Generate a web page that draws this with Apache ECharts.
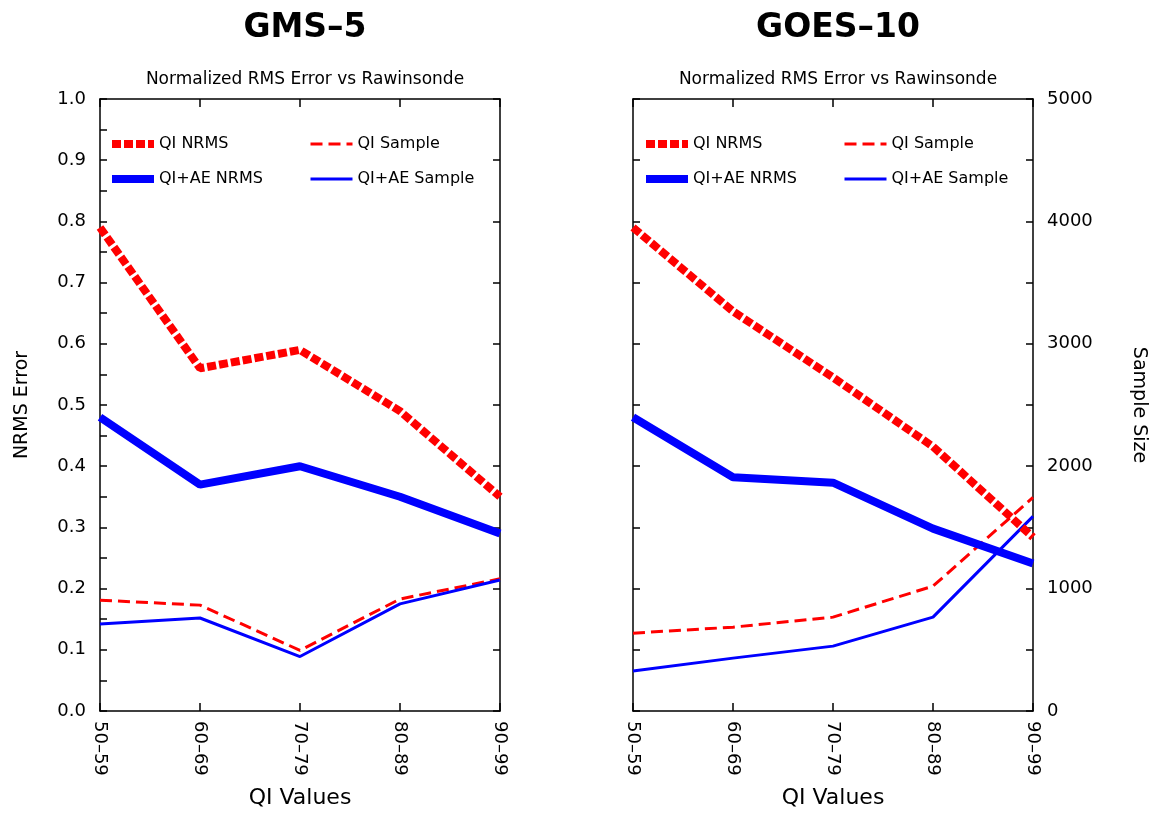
<!DOCTYPE html>
<html>
<head>
<meta charset="utf-8">
<script src="https://cdn.jsdelivr.net/npm/echarts@6/dist/echarts.min.js"></script>
<style>
  html, body { margin: 0; padding: 0; background: #fff; }
  #chart { width: 1155px; height: 814px; }
</style>
</head>
<body>
<div id="chart"></div>
<script>
const categories = ['50–59', '60–69', '70–79', '80–89', '90–99']

// GMS-5
const gmsQiNrms = [0.79, 0.56, 0.59, 0.49, 0.35]
const gmsQiAeNrms = [0.48, 0.37, 0.40, 0.35, 0.29]
const gmsQiSample = [905, 865, 495, 915, 1080]
const gmsQiAeSample = [710, 760, 445, 875, 1070]

// GOES-10
const goesQiNrms = [0.79, 0.653, 0.545, 0.432, 0.284]
const goesQiAeNrms = [0.48, 0.382, 0.373, 0.298, 0.241]
const goesQiSample = [636, 685, 767, 1020, 1745]
const goesQiAeSample = [326, 432, 530, 767, 1590]

const nrmsTicks = ['0.0', '0.1', '0.2', '0.3', '0.4', '0.5', '0.6', '0.7', '0.8', '0.9', '1.0']
const sampleTicks = ['0', '1000', '2000', '3000', '4000', '5000']

const FONT = 'DejaVu Sans, Liberation Sans, Arial, sans-serif'
const RED = '#ff0000'
const BLUE = '#0000ff'

const chart = echarts.init(document.getElementById('chart'))

const axisLine = { show: true, onZero: false, lineStyle: { color: '#000', width: 1.5 } }
const tickIn = (len) => ({ show: true, inside: true, length: len, lineStyle: { color: '#000', width: 1.5 } })

function xAxes(gridIndex) {
  return [
    {
      type: 'category', gridIndex, data: categories, boundaryGap: false, position: 'bottom',
      axisLine, axisTick: tickIn(8),
      axisLabel: { rotate: -90, color: '#000', fontFamily: FONT, fontSize: 18, margin: 10 },
      name: 'QI Values', nameLocation: 'middle', nameGap: 76,
      nameTextStyle: { color: '#000', fontFamily: FONT, fontSize: 22 },
      splitLine: { show: false },
    },
    {
      type: 'category', gridIndex, data: categories, boundaryGap: false, position: 'top',
      axisLine, axisTick: tickIn(8), axisLabel: { show: false }, splitLine: { show: false },
    },
  ]
}

function yAxes(gridIndex, leftLabels, rightLabels) {
  return [
    {
      type: 'value', gridIndex, min: 0, max: 1, interval: 0.1, position: 'left',
      axisLine, axisTick: tickIn(7),
      minorTick: { show: leftLabels, splitNumber: 2, length: 7, lineStyle: { color: '#000', width: 1.5 } },
      axisLabel: {
        show: leftLabels, color: '#000', fontFamily: FONT, fontSize: 18, margin: 14,
        formatter: (v) => nrmsTicks[Math.round(v * 10)],
      },
      name: leftLabels ? 'NRMS Error' : '', nameLocation: 'middle', nameGap: 68,
      nameTextStyle: { color: '#000', fontFamily: FONT, fontSize: 19 },
      splitLine: { show: false },
    },
    {
      type: 'value', gridIndex, min: 0, max: 5000, interval: rightLabels ? 1000 : 500, position: 'right',
      axisLine, axisTick: tickIn(7),
      minorTick: { show: rightLabels, splitNumber: 2, length: 7, lineStyle: { color: '#000', width: 1.5 } },
      axisLabel: {
        show: rightLabels, color: '#000', fontFamily: FONT, fontSize: 18, margin: 14,
        formatter: (v) => sampleTicks[Math.round(v / 1000)],
      },
      name: rightLabels ? 'Sample Size' : '', nameLocation: 'middle', nameGap: 96, nameRotate: -90,
      nameTextStyle: { color: '#000', fontFamily: FONT, fontSize: 19 },
      splitLine: { show: false },
    },
  ]
}

function seriesFor(idx, qiNrms, qiAeNrms, qiSample, qiAeSample) {
  const x = idx * 2
  const y = idx * 2
  const base = { type: 'line', symbol: 'none', xAxisIndex: x, silent: true }
  return [
    { ...base, name: 'QI Sample', yAxisIndex: y + 1, data: qiSample,
      lineStyle: { color: RED, width: 3, type: [12, 6] }, itemStyle: { color: RED } },
    { ...base, name: 'QI+AE Sample', yAxisIndex: y + 1, data: qiAeSample,
      lineStyle: { color: BLUE, width: 3 }, itemStyle: { color: BLUE } },
    { ...base, name: 'QI+AE NRMS', yAxisIndex: y, data: qiAeNrms,
      lineStyle: { color: BLUE, width: 8 }, itemStyle: { color: BLUE } },
    { ...base, name: 'QI NRMS', yAxisIndex: y, data: qiNrms,
      lineStyle: { color: RED, width: 8, type: [9, 3] }, itemStyle: { color: RED } },
  ]
}

function legendsFor(left1, left2) {
  const common = {
    orient: 'vertical', top: 131, itemGap: 19, itemWidth: 42, itemHeight: 16,
    itemStyle: { opacity: 0 },
    textStyle: { color: '#000', fontFamily: FONT, fontSize: 16 }, selectedMode: false,
  }
  return [
    { ...common, left: left1, data: [
      { name: 'QI NRMS', lineStyle: { width: 8 } },
      { name: 'QI+AE NRMS', lineStyle: { width: 8 } },
    ] },
    { ...common, left: left2, data: [
      { name: 'QI Sample', lineStyle: { width: 3 } },
      { name: 'QI+AE Sample', lineStyle: { width: 3 } },
    ] },
  ]
}

const titleStyle = { fontFamily: FONT, fontSize: 33, fontWeight: 'bold', color: '#000' }
const subStyle = { fontFamily: FONT, fontSize: 17, fontWeight: 'normal', color: '#000' }

const option = {
  animation: false,
  backgroundColor: '#fff',
  title: [
    { text: 'GMS–5', left: 300, top: 7, textAlign: 'center', textStyle: titleStyle },
    { text: 'GOES–10', left: 833, top: 7, textAlign: 'center', textStyle: titleStyle },
    { text: 'Normalized RMS Error vs Rawinsonde', left: 300, top: 66, textAlign: 'center', textStyle: subStyle },
    { text: 'Normalized RMS Error vs Rawinsonde', left: 833, top: 66, textAlign: 'center', textStyle: subStyle },
  ],
  legend: [...legendsFor(103, 304), ...legendsFor(637, 838)],
  grid: [
    { left: 100, top: 99, width: 400, height: 613 },
    { left: 633, top: 99, width: 400, height: 613 },
  ],
  xAxis: [...xAxes(0), ...xAxes(1)],
  yAxis: [...yAxes(0, true, false), ...yAxes(1, false, true)],
  series: [
    ...seriesFor(0, gmsQiNrms, gmsQiAeNrms, gmsQiSample, gmsQiAeSample),
    ...seriesFor(1, goesQiNrms, goesQiAeNrms, goesQiSample, goesQiAeSample),
  ],
}

chart.setOption(option)
window.addEventListener('resize', () => chart.resize())
</script>
</body>
</html>
